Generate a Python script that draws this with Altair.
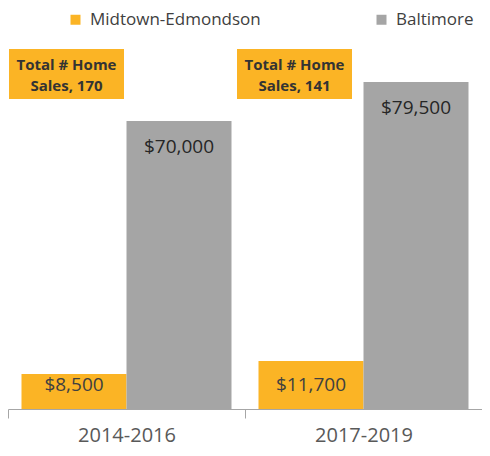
import altair as alt
import pandas as pd

periods = ["2014-2016", "2017-2019"]
series = ["Midtown-Edmondson", "Baltimore"]
midtown = [8500, 11700]
baltimore = [70000, 79500]
home_sales = [170, 141]

ORANGE = "#FBB425"
GRAY = "#A5A5A5"
FONT = "Open Sans"

rows = []
for i, p in enumerate(periods):
    rows.append({"period": p, "series": series[0], "value": midtown[i]})
    rows.append({"period": p, "series": series[1], "value": baltimore[i]})
df = pd.DataFrame(rows)

boxes = pd.DataFrame({
    "period": periods,
    "label": [f"Total # Home\nSales, {n}" for n in home_sales],
})

x_scale = alt.Scale(domain=periods, paddingInner=0, paddingOuter=0)
x_axis = alt.Axis(
    labelAngle=0,
    labelFontSize=20,
    labelColor="#595959",
    labelFont=FONT,
    labelPadding=7,
    labelBaseline="top",
    tickBand="extent",
    tickSize=9,
    tickColor="#a6a6a6",
    domainColor="#a6a6a6",
    grid=False,
)
x_enc = alt.X("period:N", sort=periods, title=None, scale=x_scale, axis=x_axis)
xoff = alt.XOffset("series:N", sort=series,
                   scale=alt.Scale(domain=series, paddingInner=0, paddingOuter=0.1286))
y_scale = alt.Scale(domain=[0, 97500])

base = alt.Chart(df)

bars = base.mark_bar().encode(
    x=x_enc,
    xOffset=xoff,
    y=alt.Y("value:Q", scale=y_scale, axis=None),
    color=alt.Color(
        "series:N",
        sort=series,
        scale=alt.Scale(domain=series, range=[ORANGE, GRAY]),
        legend=alt.Legend(
            title=None,
            orient="none",
            legendX=59,
            legendY=3,
            direction="horizontal",
            symbolType="square",
            symbolSize=100,
            symbolStrokeWidth=0,
            labelFontSize=17,
            labelFont=FONT,
            labelColor="#404040",
            labelOffset=6,
            labelLimit=400,
            columnPadding=112,
            padding=0,
        ),
    ),
)

mid_text = base.transform_filter(alt.datum.series == series[0]).mark_text(
    dy=-24, fontSize=19, font=FONT, color="#404040", baseline="middle"
).encode(
    x=x_enc,
    xOffset=xoff,
    y=alt.Y(datum=0, scale=y_scale, axis=None),
    text=alt.Text("value:Q", format="$,.0f"),
)

balt_text = base.transform_filter(alt.datum.series == series[1]).mark_text(
    dy=26, fontSize=19, font=FONT, color="#262626", baseline="middle"
).encode(
    x=x_enc,
    xOffset=xoff,
    y=alt.Y("value:Q", scale=y_scale, axis=None),
    text=alt.Text("value:Q", format="$,.0f"),
)

box_layers = []
offsets = [-60, -69]
for i, p in enumerate(periods):
    bc = alt.Chart(boxes).transform_filter(alt.datum.period == p)
    box_layers.append(
        bc.mark_bar(width=115, xOffset=offsets[i], color=ORANGE).encode(
            x=x_enc,
            y=alt.value(41),
            y2=alt.value(91),
        )
    )
    box_layers.append(
        bc.mark_text(
            xOffset=offsets[i], fontSize=15, fontWeight="bold", font=FONT,
            color="#333333", lineBreak="\n", lineHeight=21, baseline="middle",
        ).encode(
            x=x_enc,
            y=alt.value(57),
            text="label:N",
        )
    )

chart = alt.layer(bars, mid_text, balt_text, *box_layers).properties(
    width=474,
    height=401,
    autosize=alt.AutoSizeParams(type="none"),
    padding={"left": 0, "top": 0, "right": 0, "bottom": 39},
).configure(background="white").configure_view(stroke=None)

chart.save("out.html", embed_options={"renderer": "svg", "actions": False})
